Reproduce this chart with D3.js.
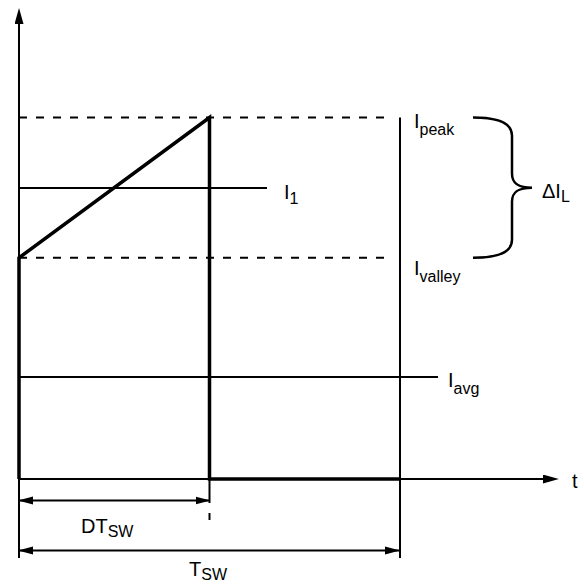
<!DOCTYPE html>
<html>
<head>
<meta charset="utf-8">
<script src="https://cdn.jsdelivr.net/npm/d3@7"></script>
<style>
  html, body { margin: 0; padding: 0; background: #fff; }
  text { font-family: "Liberation Sans", Arial, sans-serif; fill: #000; }
</style>
</head>
<body>
<script>
// time axis, in units of T_SW
var duty = 0.5;
var period = 1;
var tMax = 1.417;

// current levels (arbitrary units)
var levelNames = ["peak", "valley", "1", "avg"];
var levelValues = [10, 6.12, 8.05, 2.82];
var iMax = 13.03;

// inductor current waveform
var waveT = [0, 0, duty, duty, period];
var waveI = [0, 6.12, 10, 0, 0];

var width = 584, height = 584;

var x = d3.scaleLinear().domain([0, period]).range([19, 400]);
var y = d3.scaleLinear().domain([0, iMax]).range([479, 8]);

var level = function(name) { return levelValues[levelNames.indexOf(name)]; };

var svg = d3.select("body").append("svg")
    .attr("width", width)
    .attr("height", height);

// arrow heads
var defs = svg.append("defs");
defs.append("marker")
    .attr("id", "arrow")
    .attr("markerUnits", "userSpaceOnUse")
    .attr("markerWidth", 17).attr("markerHeight", 10)
    .attr("refX", 8).attr("refY", 4.5)
    .attr("orient", "auto-start-reverse")
  .append("path")
    .attr("d", "M0,0L16,4.5L0,9Z")
    .attr("fill", "#000");
defs.append("marker")
    .attr("id", "arrowSmall")
    .attr("markerUnits", "userSpaceOnUse")
    .attr("markerWidth", 16).attr("markerHeight", 10)
    .attr("refX", 14).attr("refY", 4.5)
    .attr("orient", "auto-start-reverse")
  .append("path")
    .attr("d", "M0,0.5L15,4.5L0,8.5Z")
    .attr("fill", "#000");

var line = function(x1, y1, x2, y2, w) {
  return svg.append("line")
      .attr("x1", x1).attr("y1", y1).attr("x2", x2).attr("y2", y2)
      .attr("stroke", "#000").attr("stroke-width", w || 2);
};

// axes
line(x(0), y(0), x(0), y(iMax) + 8).attr("marker-end", "url(#arrow)");
line(x(0), y(0), x(tMax) - 8, y(0)).attr("marker-end", "url(#arrow)");
line(x(0), y(0), x(0), 558);

// period boundary
line(x(period), y(level("peak")), x(period), 558);

// dashed peak / valley levels
["peak", "valley"].forEach(function(n) {
  line(x(0), y(level(n)), 387, y(level(n)))
      .attr("stroke-dasharray", "8,9");
});

// I1 and Iavg levels
line(x(0), y(level("1")), 267, y(level("1")));
line(x(0), y(level("avg")), 438, y(level("avg")));

// waveform
svg.append("path")
    .datum(d3.range(waveT.length))
    .attr("d", d3.line().x(function(i) { return x(waveT[i]); }).y(function(i) { return y(waveI[i]); }))
    .attr("fill", "none")
    .attr("stroke", "#000")
    .attr("stroke-width", 3.5)
    .attr("stroke-linejoin", "miter");

// dashed mark below DT_SW
line(x(duty), y(0), x(duty), 520).attr("stroke-dasharray", "24,10,7,40");

// dimension arrows
line(x(0), 500.5, x(duty), 500.5)
    .attr("marker-start", "url(#arrowSmall)").attr("marker-end", "url(#arrowSmall)");
line(x(0), 550.5, x(period) - 1, 550.5)
    .attr("marker-start", "url(#arrowSmall)").attr("marker-end", "url(#arrowSmall)");

// brace for delta I_L
var yt = y(level("peak")), yb = y(level("valley")), ym = (yt + yb) / 2;
var bx = 512;
svg.append("path")
    .attr("d", "M473," + yt +
      "C495," + yt + " " + bx + "," + (yt + 4) + " " + bx + "," + (yt + 18) +
      "L" + bx + "," + (ym - 14) +
      "C" + bx + "," + (ym - 3) + " 520," + ym + " 532," + ym +
      "C520," + ym + " " + bx + "," + (ym + 3) + " " + bx + "," + (ym + 14) +
      "L" + bx + "," + (yb - 18) +
      "C" + bx + "," + (yb - 4) + " 495," + yb + " 473," + yb)
    .attr("fill", "none")
    .attr("stroke", "#000")
    .attr("stroke-width", 2.5);

// labels
var label = function(px, py, main, sub, shift) {
  var t = svg.append("text").attr("x", px).attr("y", py).style("font-size", "20px");
  t.append("tspan").text(main);
  t.append("tspan").attr("dy", shift).style("font-size", "16px").text(sub);
  return t;
};
label(414, y(level("peak")) + 10, "I", "peak", 7);
label(414, y(level("valley")) + 17, "I", "valley", 7);
label(284, y(level("1")) + 11, "I", "1", 5);
label(448, y(level("avg")) + 10, "I", "avg", 7);
label(542, 198, "\u0394I", "L", 4);
label(81, 533, "DT", "SW", 4);
label(189, 576, "T", "SW", 4);
svg.append("text").attr("x", 572).attr("y", 488).style("font-size", "20px").text("t");
</script>
</body>
</html>
